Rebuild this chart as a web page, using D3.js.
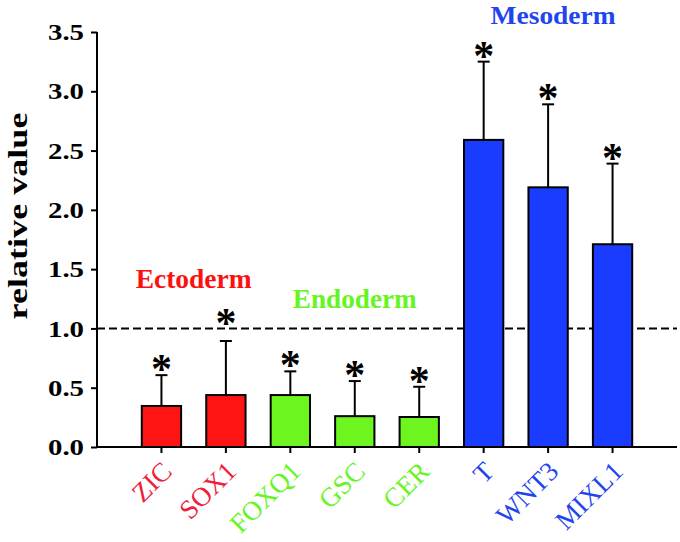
<!DOCTYPE html>
<html><head><meta charset="utf-8">
<script src="https://cdn.jsdelivr.net/npm/d3@7"></script>
<style>body{margin:0;background:#fff}svg{display:block}</style>
</head><body>
<svg id="c" width="680" height="542"></svg>
<script>
const categories = ["ZIC","SOX1","FOXQ1","GSC","CER","T","WNT3","MIXL1"];
const groups = ["Ectoderm","Ectoderm","Endoderm","Endoderm","Endoderm","Mesoderm","Mesoderm","Mesoderm"];
const values = [0.346, 0.438, 0.438, 0.26, 0.253, 2.59, 2.19, 1.71];
const errors = [0.26, 0.456, 0.20, 0.296, 0.255, 0.66, 0.70, 0.68];
const yTicks = [0,0.5,1.0,1.5,2.0,2.5,3.0,3.5];
const groupNames = ["Ectoderm","Endoderm","Mesoderm"];
const reference = 1.0;

const barColor = {Ectoderm:"#ff1414", Endoderm:"#6cf51e", Mesoderm:"#1a3cff"};
const textColor = {Ectoderm:"#f0203a", Endoderm:"#66f522", Mesoderm:"#1f46ee"};
const groupLabelColor = {Ectoderm:"#ff1010", Endoderm:"#66f522", Mesoderm:"#1f46ee"};

const svg = d3.select("#c");
const serif = "'Liberation Serif','Times New Roman',serif";
const y = d3.scaleLinear().domain([0,3.5]).range([447,32]);
const x = d3.scaleBand().domain(categories).range([97,677]).paddingInner(0.39).paddingOuter(0.695);

// reference dashed line
svg.append("line").attr("x1",97).attr("x2",677).attr("y1",y(reference)).attr("y2",y(reference))
  .attr("stroke","#000").attr("stroke-width",2).attr("stroke-dasharray","8,4");

// error bars
const eg = svg.append("g");
categories.forEach((c,i)=>{
  const cx = x(c)+x.bandwidth()/2;
  eg.append("line").attr("x1",cx).attr("x2",cx).attr("y1",y(values[i])).attr("y2",y(values[i]+errors[i]))
    .attr("stroke","#000").attr("stroke-width",2);
  eg.append("line").attr("x1",cx-6).attr("x2",cx+6).attr("y1",y(values[i]+errors[i])).attr("y2",y(values[i]+errors[i]))
    .attr("stroke","#000").attr("stroke-width",2);
  eg.append("text").attr("x",cx).attr("y",y(values[i]+errors[i])+ (c==="SOX1"?-4:8))
    .attr("text-anchor","middle").attr("font-family",serif).attr("font-weight","bold")
    .attr("font-size",42).text("*");
});

// bars
svg.append("g").selectAll("rect").data(categories).join("rect")
  .attr("x",d=>x(d)).attr("width",x.bandwidth())
  .attr("y",(d,i)=>y(values[i])).attr("height",(d,i)=>y(0)-y(values[i]))
  .attr("fill",(d,i)=>barColor[groups[i]]).attr("stroke","#000").attr("stroke-width",2);

// y axis
const ya = svg.append("g").attr("transform","translate(97,0)")
  .call(d3.axisLeft(y).tickValues(yTicks).tickFormat(d3.format(".1f")).tickSize(6).tickSizeOuter(0));
ya.select(".domain").attr("stroke-width",2).attr("d","M0,"+y(3.5)+"V"+y(0));
ya.selectAll(".tick line").attr("stroke-width",2);
ya.selectAll(".tick text").attr("font-family",serif).attr("font-weight","bold").attr("font-size",24)
  .attr("fill","#000").attr("x",-13).attr("textLength",36).attr("lengthAdjust","spacingAndGlyphs");

// x axis
const xa = svg.append("g").attr("transform","translate(0,447)")
  .call(d3.axisBottom(x).tickSize(6).tickSizeOuter(0));
xa.select(".domain").attr("stroke-width",2).attr("d","M97,0H677");
xa.selectAll(".tick line").attr("stroke-width",2);
xa.selectAll(".tick text")
  .attr("font-family",serif).attr("font-size",27)
  .attr("fill",(d,i)=>textColor[groups[i]])
  .attr("text-anchor","end").attr("dy",0)
  .attr("transform","translate(12,26) rotate(-45)").attr("y",0).attr("x",0);

// y label
svg.append("text").attr("transform","translate(27,216) rotate(-90)")
  .attr("text-anchor","middle").attr("font-family",serif).attr("font-weight","bold")
  .attr("font-size",28).attr("textLength",207).attr("lengthAdjust","spacingAndGlyphs")
  .text("relative value");

// group labels
const gy = {Ectoderm:288, Endoderm:308, Mesoderm:24};
const gs = {Ectoderm:28, Endoderm:28, Mesoderm:25};
const gw = {Ectoderm:116, Endoderm:124, Mesoderm:125};
groupNames.forEach(g=>{
  const members = categories.filter((c,i)=>groups[i]===g);
  const cx = d3.mean(members, c=>x(c)+x.bandwidth()/2);
  svg.append("text").attr("x",cx + (g==="Mesoderm"?5:0)).attr("y",gy[g]).attr("text-anchor","middle")
    .attr("font-family",serif).attr("font-weight","bold").attr("font-size",gs[g])
    .attr("textLength",gw[g]).attr("lengthAdjust","spacingAndGlyphs")
    .attr("fill",groupLabelColor[g]).text(g);
});
</script>
</body></html>
